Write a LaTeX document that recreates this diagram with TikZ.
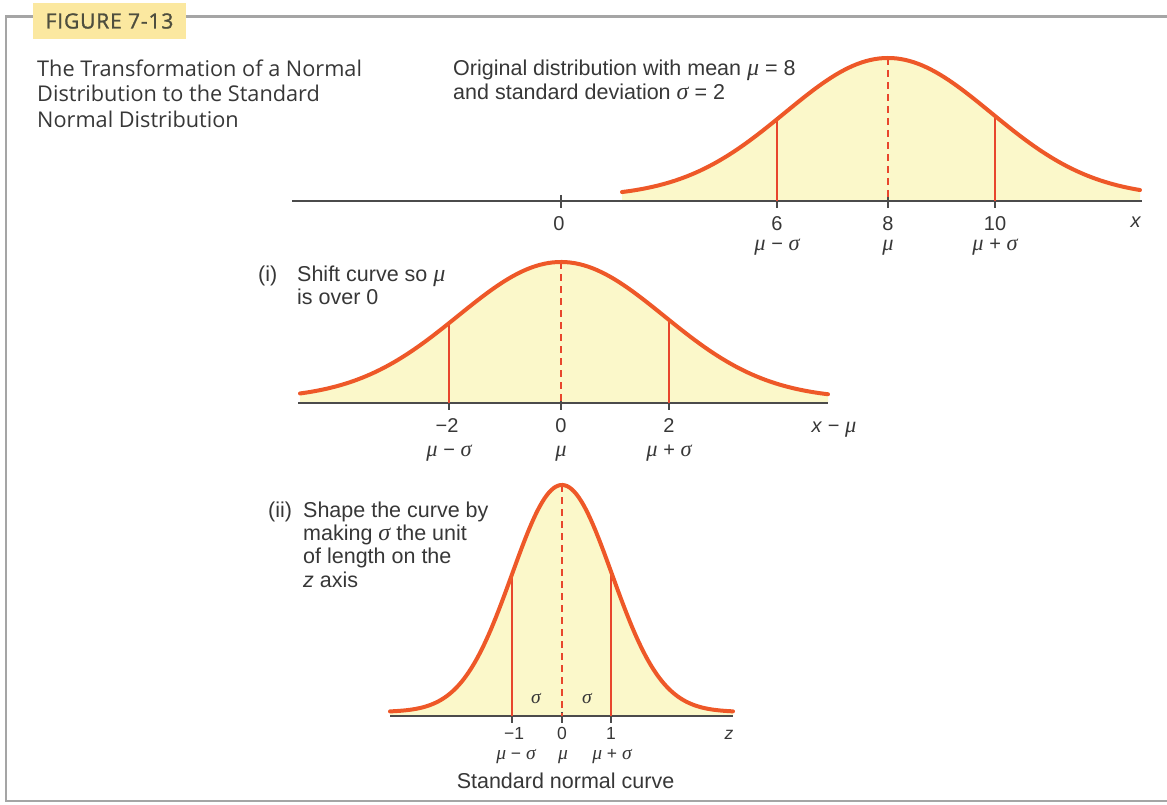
\documentclass[tikz,border=0pt]{standalone}
\usepackage{fontspec}
\setmainfont{Liberation Sans}
\newfontfamily\titlef{Open Sans}
\newfontfamily\figf[FakeBold=1.3,LetterSpace=4]{Open Sans}
\newfontfamily\greekf[Scale=1.12]{Liberation Serif}
\newcommand{\gmu}{{\greekf\itshape μ}}
\newcommand{\gsig}{{\greekf\itshape σ}}
\definecolor{curvec}{RGB}{238,88,40}
\definecolor{redl}{RGB}{232,70,45}
\definecolor{fillc}{RGB}{251,248,202}
\definecolor{axisc}{RGB}{75,75,75}
\definecolor{textc}{RGB}{55,55,55}
\definecolor{framec}{RGB}{165,165,165}
\definecolor{figbox}{RGB}{251,232,160}
\definecolor{figtext}{RGB}{78,78,62}
\tikzset{
  titletxt/.style={anchor=base west, inner sep=0pt, text=textc, font=\titlef\fontsize{21.7}{26}\selectfont},
  labtxt/.style={anchor=base west, inner sep=0pt, text=textc, font=\fontsize{21.5}{24}\selectfont},
  ticktxt/.style={anchor=base, inner sep=0pt, text=textc, font=\fontsize{20}{22}\selectfont},
  smalltick/.style={anchor=base, inner sep=0pt, text=textc, font=\fontsize{17.5}{20}\selectfont},
  curveline/.style={draw=curvec, line width=4pt, line cap=round},
  sigline/.style={draw=redl, line width=1.2pt},
  meanline/.style={draw=redl, line width=1.2pt, dash pattern=on 7pt off 5pt},
  axisline/.style={draw=axisc, line width=1.6pt},
  tickline/.style={draw=axisc, line width=1.3pt},
  frameline/.style={draw=framec, line width=2.2pt},
  declare function={
    ga(\t)=201-4-139*exp(-0.5*((\t-888)/103)^2);
    gb(\t)=403-4-137*exp(-0.5*((\t-561)/103)^2);
    gc(\t)=716-4-227*exp(-0.5*((\t-562)/50)^2);
  }
}
\begin{document}
\begin{tikzpicture}[x=1pt,y=-1pt]
\useasboundingbox (0,0) rectangle (1167,805);
% frame
\draw[frameline] (33,16.5) -- (6,16.5) -- (6,801) -- (1167,801);
\draw[frameline] (186,16.5) -- (1167,16.5);
\node[fill=figbox, minimum width=153pt, minimum height=36pt, inner sep=0pt, text=figtext, font=\figf\fontsize{21}{21}\selectfont] (fig) at (109.5,21) {FIGURE 7-13};
% title
\node[titletxt] (title1) at (37,77) {The Transformation of a Normal};
\node[titletxt] (title2) at (37,102) {Distribution to the Standard};
\node[titletxt] (title3) at (37,128) {Normal Distribution};

% ---------- top plot ----------
\fill[fillc] plot[domain=622:1140,samples=120] (\x,{ga(\x)}) -- (1140,201) -- (622,201) -- cycle;
\draw[axisline] (292,201) -- (1142,201);
\foreach \p in {561,777,888,995} \draw[tickline] (\p,195) -- (\p,208);
\draw[sigline] (777,{ga(777)}) -- (777,201);
\draw[sigline] (995,{ga(995)}) -- (995,201);
\draw[meanline] (888,{ga(888)}) -- (888,201);
\draw[curveline] plot[domain=622:1140,samples=120] (\x,{ga(\x)});
\node[labtxt] (orig1) at (453,76) {Original distribution with mean \gmu\ = 8};
\node[labtxt] (orig2) at (453,99.5) {and standard deviation \gsig\ = 2};
\node[ticktxt] (a0) at (559,230) {0};
\node[ticktxt] (a6) at (777,230) {6};
\node[ticktxt] (a8) at (888,230) {8};
\node[ticktxt] (a10) at (995,230) {10};
\node[ticktxt] (ax) at (1136,227) {\textit{x}};
\node[ticktxt] (am1) at (777,251) {\gmu\ − \gsig};
\node[ticktxt] (am2) at (888,251) {\gmu};
\node[ticktxt] (am3) at (995,251) {\gmu\ + \gsig};

% ---------- (i) ----------
\fill[fillc] plot[domain=300:828,samples=120] (\x,{gb(\x)}) -- (828,403) -- (300,403) -- cycle;
\draw[axisline] (298,403) -- (828,403);
\foreach \p in {449,561,669} \draw[tickline] (\p,397) -- (\p,410);
\draw[sigline] (449,{gb(449)}) -- (449,403);
\draw[sigline] (669,{gb(669)}) -- (669,403);
\draw[meanline] (561,{gb(561)}) -- (561,403);
\draw[curveline] plot[domain=300:828,samples=120] (\x,{gb(\x)});
\node[labtxt] (s1a) at (258,281) {(i)};
\node[labtxt] (s1b) at (297,281) {Shift curve so \gmu};
\node[labtxt] (s1c) at (297,304.5) {is over 0};
\node[ticktxt] (b0) at (447,432) {−2};
\node[ticktxt] (b1) at (561,432) {0};
\node[ticktxt] (b2) at (669,432) {2};
\node[ticktxt] (bx) at (834,432) {\textit{x} − \gmu};
\node[ticktxt] (bm1) at (449,456) {\gmu\ − \gsig};
\node[ticktxt] (bm2) at (561,456) {\gmu};
\node[ticktxt] (bm3) at (669,456) {\gmu\ + \gsig};

% ---------- (ii) ----------
\fill[fillc] plot[domain=390:733,samples=150] (\x,{gc(\x)}) -- (733,716) -- (390,716) -- cycle;
\draw[axisline] (390,716) -- (733,716);
\foreach \p in {512,562,611} \draw[tickline] (\p,712) -- (\p,723);
\draw[sigline] (512,{gc(512)}) -- (512,716);
\draw[sigline] (611,{gc(611)}) -- (611,716);
\draw[meanline] (562,{gc(562)}) -- (562,716);
\draw[curveline] plot[domain=390:733,samples=150] (\x,{gc(\x)});
\node[labtxt] (s2a) at (268,517) {(ii)};
\node[labtxt] (s2b) at (303,517) {Shape the curve by};
\node[labtxt] (s2c) at (303,540) {making \gsig\ the unit};
\node[labtxt] (s2d) at (303,563.5) {of length on the};
\node[labtxt] (s2e) at (303,587) {\textit{z} axis};
\node[smalltick] (sg1) at (536,703) {\gsig};
\node[smalltick] (sg2) at (587,703) {\gsig};
\node[smalltick] (c0) at (514,739) {−1};
\node[smalltick] (c1) at (562,739) {0};
\node[smalltick] (c2) at (611,739) {1};
\node[smalltick] (cz) at (729,739) {\textit{z}};
\node[smalltick] (cm1) at (516,759) {\gmu\ − \gsig};
\node[smalltick] (cm2) at (563,759) {\gmu};
\node[smalltick] (cm3) at (612,759) {\gmu\ + \gsig};
\node[labtxt, anchor=base] (std) at (565.5,788) {Standard normal curve};
\end{tikzpicture}
\end{document}
